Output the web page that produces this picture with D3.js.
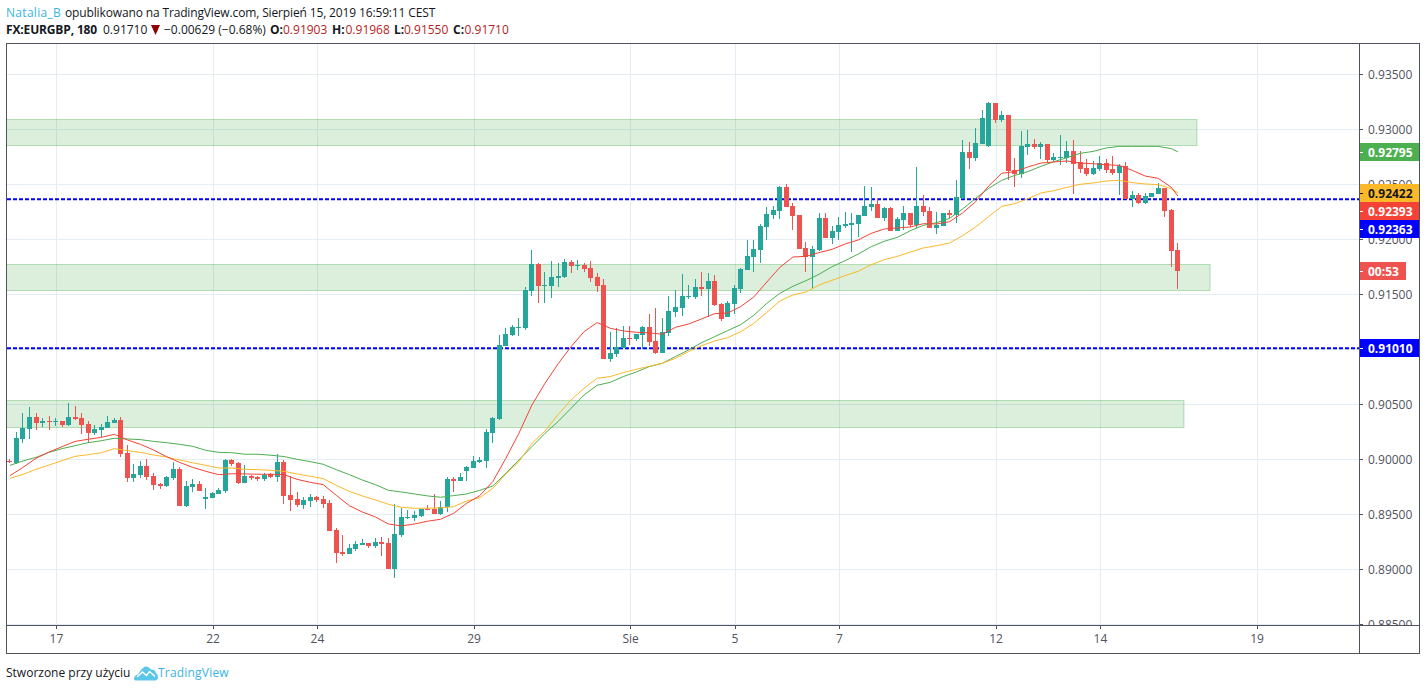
<!DOCTYPE html>
<html lang="pl">
<head>
<meta charset="utf-8">
<title>FX:EURGBP, 180</title>
<script src="https://cdn.jsdelivr.net/npm/d3@7/dist/d3.min.js"></script>
<style>
  html, body { margin: 0; padding: 0; background: #fff; }
  svg { display: block; font-family: "Open Sans", sans-serif; }
</style>
</head>
<body>
<svg id="chart" width="1426" height="691"></svg>
<script>
// EURGBP three-hour candles, 16 Jul - 15 Aug 2019
const opens = [
0.89985,0.89969,0.90185,0.90275,0.90385,0.90330,0.90348,0.90339,0.90348,0.90312,
0.90385,0.90375,0.90321,0.90239,0.90266,0.90285,0.90330,0.90357,0.90057,0.89830,
0.89857,0.89939,0.89848,0.89776,0.89757,0.89830,0.89912,0.89576,0.89748,0.89776,
0.89639,0.89648,0.89685,0.89712,0.89994,0.89967,0.89785,0.89849,0.89840,0.89821,
0.89867,0.89840,0.89976,0.89676,0.89640,0.89585,0.89621,0.89658,0.89640,0.89603,
0.89358,0.89158,0.89140,0.89185,0.89221,0.89240,0.89212,0.89249,0.89240,0.89003,
0.89312,0.89467,0.89467,0.89485,0.89549,0.89549,0.89503,0.89567,0.89821,0.89803,
0.89894,0.89921,0.89975,0.89985,0.90239,0.90367,0.91030,0.91130,0.91194,0.91194,
0.91530,0.91776,0.91576,0.91576,0.91649,0.91658,0.91794,0.91758,0.91767,0.91739,
0.91658,0.91585,0.90912,0.90958,0.91012,0.91103,0.91094,0.91130,0.91203,0.91076,
0.90967,0.91149,0.91339,0.91376,0.91476,0.91476,0.91566,0.91548,0.91621,0.91412,
0.91294,0.91412,0.91548,0.91721,0.91839,0.91903,0.92112,0.92221,0.92257,0.92475,
0.92303,0.92221,0.91921,0.91839,0.91903,0.92194,0.92012,0.92066,0.92121,0.92130,
0.92139,0.92212,0.92294,0.92321,0.92194,0.92285,0.92076,0.92176,0.92239,0.92130,
0.92303,0.92257,0.92103,0.92121,0.92239,0.92221,0.92375,0.92793,0.92739,0.92866,
0.92848,0.93239,0.93084,0.93130,0.92630,0.92593,0.92839,0.92866,0.92839,0.92866,
0.92721,0.92739,0.92739,0.92803,0.92702,0.92648,0.92593,0.92639,0.92693,0.92639,
0.92602,0.92666,0.92366,0.92403,0.92330,0.92384,0.92412,0.92466,0.92266,0.91903];
const highs = [
0.90003,0.90248,0.90421,0.90475,0.90421,0.90372,0.90394,0.90375,0.90348,0.90512,
0.90485,0.90421,0.90348,0.90312,0.90321,0.90394,0.90375,0.90385,0.90130,0.89957,
0.89985,0.90003,0.89875,0.89785,0.89848,0.89976,0.89930,0.89803,0.89821,0.89803,
0.89739,0.89703,0.89739,0.90003,0.90003,0.89976,0.89949,0.89858,0.89849,0.89876,
0.89876,0.90049,0.89994,0.89849,0.89703,0.89658,0.89685,0.89667,0.89667,0.89631,
0.89376,0.89312,0.89231,0.89258,0.89276,0.89240,0.89285,0.89294,0.89285,0.89594,
0.89558,0.89540,0.89531,0.89549,0.89585,0.89685,0.89621,0.89840,0.89840,0.89876,
0.89940,0.90030,0.90021,0.90275,0.90384,0.91130,0.91194,0.91221,0.91285,0.91567,
0.91903,0.91785,0.91703,0.91803,0.91785,0.91821,0.91812,0.91812,0.91785,0.91803,
0.91694,0.91639,0.91158,0.91194,0.91212,0.91212,0.91140,0.91212,0.91321,0.91376,
0.91285,0.91485,0.91540,0.91685,0.91585,0.91639,0.91703,0.91694,0.91676,0.91421,
0.91439,0.91585,0.91739,0.91994,0.91994,0.92139,0.92294,0.92303,0.92485,0.92503,
0.92330,0.92221,0.91976,0.91939,0.92239,0.92239,0.92121,0.92203,0.92248,0.92239,
0.92221,0.92485,0.92475,0.92375,0.92294,0.92294,0.92203,0.92303,0.92239,0.92657,
0.92403,0.92293,0.92248,0.92239,0.92266,0.92539,0.92902,0.92884,0.93012,0.93175,
0.93248,0.93239,0.93166,0.93130,0.92739,0.92984,0.92993,0.92912,0.92884,0.92866,
0.92784,0.92948,0.92893,0.92902,0.92803,0.92730,0.92712,0.92757,0.92730,0.92757,
0.92684,0.92702,0.92439,0.92421,0.92421,0.92421,0.92512,0.92466,0.92275,0.91968];
const lows = [
0.89963,0.89957,0.90148,0.90185,0.90266,0.90294,0.90266,0.90303,0.90294,0.90303,
0.90357,0.90230,0.90145,0.90221,0.90203,0.90285,0.90330,0.90021,0.89794,0.89794,
0.89830,0.89812,0.89721,0.89730,0.89748,0.89812,0.89576,0.89566,0.89703,0.89712,
0.89548,0.89648,0.89685,0.89694,0.89939,0.89776,0.89785,0.89812,0.89803,0.89803,
0.89831,0.89794,0.89594,0.89531,0.89567,0.89549,0.89567,0.89612,0.89558,0.89349,
0.89058,0.89122,0.89140,0.89167,0.89221,0.89194,0.89194,0.89122,0.89003,0.88922,
0.89294,0.89458,0.89440,0.89476,0.89540,0.89503,0.89494,0.89521,0.89703,0.89803,
0.89803,0.89921,0.89966,0.89921,0.90148,0.90358,0.91030,0.91121,0.91121,0.91176,
0.91485,0.91421,0.91421,0.91467,0.91567,0.91649,0.91694,0.91721,0.91703,0.91612,
0.91521,0.90912,0.90885,0.90930,0.91012,0.91040,0.91076,0.91003,0.91030,0.90958,
0.90967,0.91121,0.91294,0.91303,0.91457,0.91457,0.91485,0.91294,0.91394,0.91257,
0.91294,0.91321,0.91512,0.91721,0.91703,0.91785,0.91994,0.92185,0.92185,0.92294,
0.92085,0.91912,0.91703,0.91557,0.91894,0.92012,0.91957,0.91994,0.92103,0.91885,
0.92021,0.92212,0.92257,0.92194,0.92166,0.92076,0.92076,0.92085,0.92112,0.92103,
0.92212,0.92103,0.92048,0.92121,0.92194,0.92148,0.92366,0.92639,0.92712,0.92866,
0.92839,0.93057,0.93066,0.92539,0.92475,0.92557,0.92766,0.92821,0.92730,0.92693,
0.92712,0.92675,0.92693,0.92412,0.92602,0.92575,0.92584,0.92621,0.92602,0.92584,
0.92403,0.92366,0.92293,0.92321,0.92321,0.92384,0.92412,0.92203,0.91748,0.91550];
const closes = [
0.89982,0.90194,0.90285,0.90385,0.90330,0.90348,0.90339,0.90348,0.90312,0.90385,
0.90366,0.90312,0.90239,0.90275,0.90294,0.90339,0.90357,0.90048,0.89830,0.89866,
0.89939,0.89839,0.89766,0.89757,0.89839,0.89912,0.89576,0.89757,0.89776,0.89712,
0.89657,0.89694,0.89721,0.89994,0.89958,0.89785,0.89849,0.89831,0.89821,0.89858,
0.89840,0.89976,0.89667,0.89631,0.89585,0.89631,0.89658,0.89631,0.89594,0.89349,
0.89149,0.89140,0.89194,0.89231,0.89240,0.89212,0.89249,0.89231,0.89003,0.89322,
0.89476,0.89476,0.89494,0.89549,0.89540,0.89503,0.89567,0.89821,0.89803,0.89840,
0.89931,0.89985,0.89994,0.90248,0.90375,0.91040,0.91140,0.91203,0.91203,0.91540,
0.91776,0.91576,0.91585,0.91658,0.91667,0.91794,0.91758,0.91767,0.91730,0.91649,
0.91576,0.90912,0.90967,0.91021,0.91103,0.91094,0.91140,0.91203,0.91067,0.90967,
0.91158,0.91349,0.91385,0.91485,0.91485,0.91566,0.91548,0.91621,0.91403,0.91276,
0.91421,0.91557,0.91730,0.91848,0.91912,0.92121,0.92230,0.92266,0.92475,0.92294,
0.92212,0.91912,0.91839,0.91912,0.92194,0.92012,0.92076,0.92130,0.92139,0.92148,
0.92221,0.92303,0.92321,0.92194,0.92285,0.92076,0.92185,0.92239,0.92130,0.92303,
0.92248,0.92103,0.92130,0.92239,0.92221,0.92384,0.92793,0.92739,0.92875,0.93102,
0.93239,0.93084,0.93130,0.92621,0.92593,0.92848,0.92866,0.92839,0.92866,0.92721,
0.92748,0.92748,0.92803,0.92684,0.92639,0.92593,0.92648,0.92693,0.92630,0.92602,
0.92666,0.92366,0.92403,0.92330,0.92393,0.92421,0.92466,0.92257,0.91894,0.91710];

// Moving averages, sampled every second bar plus the latest one
const maBars = d3.range(0, 180, 2).concat(179);
const maRed = [
0.89851,0.89927,0.90009,0.90066,0.90115,0.90163,0.90182,0.90200,0.90227,0.90176,0.90136,0.90085,0.90024,0.89972,0.89927,0.89891,0.89860,0.89869,
0.89867,0.89864,0.89864,0.89861,0.89818,0.89791,0.89770,0.89673,0.89579,0.89521,0.89476,0.89412,0.89394,0.89412,0.89437,0.89455,0.89509,
0.89600,0.89669,0.89797,0.90009,0.90236,0.90494,
0.90691,0.90867,0.91024,0.91161,0.91243,0.91191,0.91167,0.91155,0.91149,0.91137,0.91200,
0.91230,0.91276,0.91324,0.91330,0.91388,0.91476,0.91612,0.91745,0.91839,0.91845,0.91879,0.91909,0.91957,0.91994,0.92054,0.92094,0.92103,
0.92112,0.92142,0.92139,0.92160,0.92239,0.92342,0.92484,0.92600,0.92615,0.92657,0.92693,0.92703,0.92712,0.92693,0.92687,0.92678,0.92672,0.92627,0.92575,0.92554,0.92472,0.92393];
const maYellow = [
0.89827,0.89863,0.89909,0.89948,0.89988,0.90027,0.90042,0.90060,0.90097,0.90079,0.90063,0.90039,0.90021,0.89994,0.89969,0.89945,0.89921,0.89921,
0.89909,0.89906,0.89900,0.89891,0.89867,0.89846,0.89825,0.89764,0.89709,0.89667,0.89631,0.89591,0.89564,0.89555,0.89555,0.89558,0.89570,
0.89621,0.89651,0.89736,0.89866,0.89978,0.90145,
0.90257,0.90406,0.90540,0.90646,0.90737,0.90752,0.90788,0.90818,0.90846,0.90873,0.90918,
0.90979,0.91033,0.91076,0.91106,0.91160,0.91236,0.91336,0.91439,0.91494,0.91521,0.91585,0.91627,0.91670,0.91709,0.91769,0.91815,0.91845,
0.91884,0.91921,0.91942,0.91966,0.92033,0.92112,0.92206,0.92300,0.92324,0.92369,0.92421,0.92442,0.92472,0.92500,0.92512,0.92530,0.92536,0.92515,0.92503,0.92497,0.92460,0.92422];
const maGreen = [
0.89945,0.89985,0.90018,0.90063,0.90097,0.90124,0.90151,0.90169,0.90191,0.90185,0.90179,0.90163,0.90151,0.90136,0.90118,0.90082,0.90063,0.90060,
0.90046,0.90046,0.90037,0.90025,0.90000,0.89979,0.89955,0.89906,0.89861,0.89812,0.89770,0.89718,0.89703,0.89685,0.89667,0.89655,0.89670,
0.89685,0.89718,0.89757,0.89872,0.89994,0.90115,0.90236,
0.90343,0.90464,0.90585,0.90673,0.90700,0.90752,0.90794,0.90843,0.90873,0.90934,
0.90994,0.91060,0.91115,0.91170,0.91224,0.91309,0.91418,0.91509,0.91573,0.91624,0.91682,0.91751,0.91806,0.91866,0.91933,0.91982,0.92018,
0.92078,0.92127,0.92151,0.92190,0.92275,0.92372,0.92463,0.92536,0.92581,0.92615,0.92663,0.92706,0.92742,0.92781,0.92799,0.92830,0.92845,0.92845,0.92845,0.92845,0.92824,0.92795];

// Support / resistance bands: top price, bottom price, bar where the band ends
const zoneTops = [0.93091, 0.91773, 0.90539];
const zoneBottoms = [0.92855, 0.91536, 0.90296];
const zoneEnds = [182, 184, 180];

// Horizontal levels and price tags on the right-hand scale
const levels = [0.92363, 0.91010];
const tagPrices = [0.92795, 0.92422, 0.92393, 0.92363, 0.91010];
const tagFills = ["#4caf50", "#fbb829", "#f44336", "#0000ff", "#0000ff"];
const tagInks = ["#fff", "#131722", "#fff", "#fff", "#fff"];

const priceTicks = [0.935, 0.93, 0.925, 0.92, 0.915, 0.91, 0.905, 0.90, 0.895, 0.89, 0.885];
const dateTickBars = [7, 31, 47, 71, 95, 111, 127, 151, 167, 191];
const dateTickLabels = ["17", "22", "24", "29", "Sie", "5", "7", "12", "14", "19"];

const UP = "#26a69a", DOWN = "#ef5350", GRID = "#e4edf3", FRAME = "#50535e", TEXT = "#50535e";
const plot = { left: 7, right: 1359, top: 44, bottom: 625 };

const svg = d3.select("#chart");

const x = d3.scaleLinear().domain([0, 179]).range([9.45, 1177.4]);
const y = d3.scaleLinear().domain([0.93, 0.915]).range([129.3, 294.3]);
// Axis ticks sit on whole pixels; d3 adds the half-pixel offset itself
const yTick = d3.scaleLinear().domain([0.93, 0.915]).range([129, 294]);
const xTick = d3.scaleLinear().domain([0, 179]).range([10.3, 1178.25]);
const col = i => Math.round(x(i));

const defs = svg.append("defs");
defs.append("clipPath").attr("id", "plot-clip").append("rect")
  .attr("x", plot.left).attr("y", plot.top)
  .attr("width", plot.right - plot.left).attr("height", plot.bottom - plot.top);
// The price axis group is translated, so its clip is in the group's own coordinates
defs.append("clipPath").attr("id", "scale-clip").append("rect")
  .attr("x", 0).attr("y", plot.top)
  .attr("width", 60).attr("height", plot.bottom - plot.top);

const scene = svg.append("g").attr("clip-path", "url(#plot-clip)");

// Grid
const grid = scene.append("g").attr("stroke", GRID).attr("shape-rendering", "crispEdges");
grid.selectAll(".gh").data(priceTicks).join("line")
  .attr("x1", plot.left).attr("x2", plot.right)
  .attr("y1", d => yTick(d) + 0.5).attr("y2", d => yTick(d) + 0.5);
grid.selectAll(".gv").data(dateTickBars).join("line")
  .attr("y1", plot.top).attr("y2", plot.bottom)
  .attr("x1", d => Math.round(xTick(d)) + 0.5).attr("x2", d => Math.round(xTick(d)) + 0.5);

// Bands
scene.append("g").selectAll("rect").data(zoneTops).join("rect")
  .attr("x", 0)
  .attr("width", (d, i) => x(zoneEnds[i]))
  .attr("y", d => Math.round(y(d)) + 0.5)
  .attr("height", (d, i) => Math.round(y(zoneBottoms[i])) - Math.round(y(d)))
  .attr("fill", "rgba(76,175,80,0.2)")
  .attr("stroke", "rgba(76,175,80,0.38)")
  .attr("stroke-width", 1);

// Dashed price levels
scene.append("g").selectAll("line").data(levels).join("line")
  .attr("x1", plot.left).attr("x2", plot.right)
  .attr("y1", d => y(d)).attr("y2", d => y(d))
  .attr("stroke", "#0000ff").attr("stroke-width", 2).attr("stroke-dasharray", "4 2");

// Candles
const candles = scene.append("g").attr("shape-rendering", "crispEdges");
const bars = d3.range(opens.length);
const color = i => (closes[i] >= opens[i] ? UP : DOWN);
candles.selectAll(".wick").data(bars).join("rect")
  .attr("x", col).attr("width", 1)
  .attr("y", i => Math.round(y(highs[i])))
  .attr("height", i => Math.max(1, Math.round(y(lows[i])) - Math.round(y(highs[i]))))
  .attr("fill", color);
candles.selectAll(".body").data(bars).join("rect")
  .attr("x", i => col(i) - 2).attr("width", 5)
  .attr("y", i => Math.round(y(Math.max(opens[i], closes[i]))))
  .attr("height", i => Math.max(1, Math.round(y(Math.min(opens[i], closes[i]))) - Math.round(y(Math.max(opens[i], closes[i])))))
  .attr("fill", color);

// Moving averages
const maLine = d3.line().x((d, k) => x(maBars[k]) + 0.5).y(d => y(d));
[[maGreen, "#4caf50"], [maYellow, "#fbb829"], [maRed, "#f44336"]].forEach(([values, stroke]) => {
  scene.append("path").attr("d", maLine(values))
    .attr("fill", "none").attr("stroke", stroke).attr("stroke-width", 1).attr("stroke-linejoin", "round");
});

// Price scale
const priceAxis = svg.append("g")
  .attr("transform", `translate(${plot.right},0)`)
  .attr("clip-path", "url(#scale-clip)")
  .call(d3.axisRight(yTick).tickValues(priceTicks).tickFormat(d3.format(".5f")).tickSize(4).tickPadding(5))
  .call(g => g.select(".domain").remove());
priceAxis.selectAll("line").attr("stroke", FRAME).attr("shape-rendering", "crispEdges");
priceAxis.selectAll("text").attr("fill", TEXT).attr("font-size", 12).attr("font-family", '"Open Sans", sans-serif').attr("dy", "0.37em");

// Time scale
const timeAxis = svg.append("g")
  .attr("transform", `translate(0,${plot.bottom})`)
  .call(d3.axisBottom(xTick).tickValues(dateTickBars).tickFormat((d, i) => dateTickLabels[i]).tickSize(4).tickPadding(5))
  .call(g => g.select(".domain").remove());
timeAxis.selectAll("line").attr("stroke", FRAME).attr("shape-rendering", "crispEdges");
timeAxis.selectAll("text").attr("fill", TEXT).attr("font-size", 12).attr("font-family", '"Open Sans", sans-serif');

// Price tags, stacked downward when they would overlap
const TAG_H = 18;
let lastBottom = -Infinity;
const tags = tagPrices.map((p, i) => {
  const top = Math.max(Math.round(y(p) - TAG_H / 2), lastBottom);
  lastBottom = top + TAG_H;
  return { p, top, fill: tagFills[i], ink: tagInks[i] };
});
const tagG = svg.append("g").selectAll("g").data(tags).join("g");
tagG.append("rect").attr("x", plot.right + 1).attr("y", d => d.top)
  .attr("width", 59).attr("height", TAG_H).attr("fill", d => d.fill);
tagG.append("line").attr("x1", plot.right + 1).attr("x2", plot.right + 4)
  .attr("y1", d => d.top + 9.5).attr("y2", d => d.top + 9.5)
  .attr("stroke", d => d.ink).attr("shape-rendering", "crispEdges");
tagG.append("text").attr("x", 1368).attr("y", d => d.top + 13.5)
  .attr("fill", d => d.ink).attr("font-size", 12).attr("font-weight", 700)
  .text(d => d.p.toFixed(5));

// Bar countdown under the last price
const lastClose = closes[closes.length - 1];
const cdTop = Math.round(y(lastClose) - TAG_H / 2);
svg.append("rect").attr("x", plot.right + 1).attr("y", cdTop).attr("width", 46).attr("height", TAG_H).attr("fill", DOWN);
svg.append("line").attr("x1", plot.right + 1).attr("x2", plot.right + 4).attr("y1", cdTop + 9.5).attr("y2", cdTop + 9.5)
  .attr("stroke", "#fff").attr("shape-rendering", "crispEdges");
svg.append("text").attr("x", 1368).attr("y", cdTop + 13.5).attr("fill", "#fff").attr("font-size", 12).attr("font-weight", 700).text("00:53");

// Frame and separators
const frame = svg.append("g").attr("fill", "none").attr("stroke", FRAME).attr("shape-rendering", "crispEdges");
frame.append("rect").attr("x", 6.5).attr("y", 43.5).attr("width", 1413).attr("height", 610);
frame.append("line").attr("x1", 6.5).attr("x2", 1419.5).attr("y1", 625.5).attr("y2", 625.5);
frame.append("line").attr("x1", 1359.5).attr("x2", 1359.5).attr("y1", 43.5).attr("y2", 653.5);

// Header
const head = svg.append("g").attr("font-size", 12).attr("fill", "#131722");
head.append("text").attr("x", 6).attr("y", 17).attr("fill", "#3bb3e4").attr("letter-spacing", 0.3).text("Natalia_B");
head.append("text").attr("x", 65).attr("y", 17).attr("letter-spacing", -0.14)
  .text("opublikowano na TradingView.com, Sierpień 15, 2019 16:59:11 CEST");

const headerRow = [
  { x: 6, t: "FX:EURGBP, 180", bold: true, ls: -0.15 },
  { x: 103, t: "0.91710" },
  { x: 164, t: "\u22120.00629 (\u22120.68%)" },
  { x: 270, t: "O:", bold: true }, { x: 283, t: "0.91903", red: true },
  { x: 332, t: "H:", bold: true }, { x: 345.5, t: "0.91968", red: true },
  { x: 394, t: "L:", bold: true }, { x: 404, t: "0.91550", red: true },
  { x: 453, t: "C:", bold: true }, { x: 464.5, t: "0.91710", red: true }
];
head.selectAll(".row").data(headerRow).join("text")
  .attr("x", d => d.x).attr("y", 34)
  .attr("letter-spacing", d => d.ls || 0)
  .attr("font-weight", d => (d.bold ? 700 : 400))
  .attr("fill", d => (d.red ? "#b71c1c" : "#131722"))
  .text(d => d.t);
svg.append("path").attr("d", "M151 25H160L155.5 35Z").attr("fill", "#8b0000");

// Footer
svg.append("text").attr("x", 6).attr("y", 677).attr("font-size", 12).attr("fill", "#131722").text("Stworzone przy użyciu");
svg.append("text").attr("x", 158).attr("y", 677).attr("font-size", 12).attr("letter-spacing", 0.2).attr("fill", "#3bb3e4").text("TradingView");
const logo = svg.append("g").attr("transform", "translate(134,666)");
logo.append("path")
  .attr("d", "M0 13C0 10 2 9 4 8.5C6 5 8 2 11 0.5C13 0 15 1 17 3.5C19 3 21 4 22 7C23.5 8 24 10 24 11.5C24 13.5 22.5 14.5 21 14.5H3C1 14.5 0 14 0 13Z")
  .attr("fill", "#5bc6ea");
logo.append("path").attr("d", "M3 11L8.5 6L12.5 9.5L15.5 5.5L21 10.5")
  .attr("fill", "none").attr("stroke", "#fff").attr("stroke-width", 1.4);
</script>
</body>
</html>
